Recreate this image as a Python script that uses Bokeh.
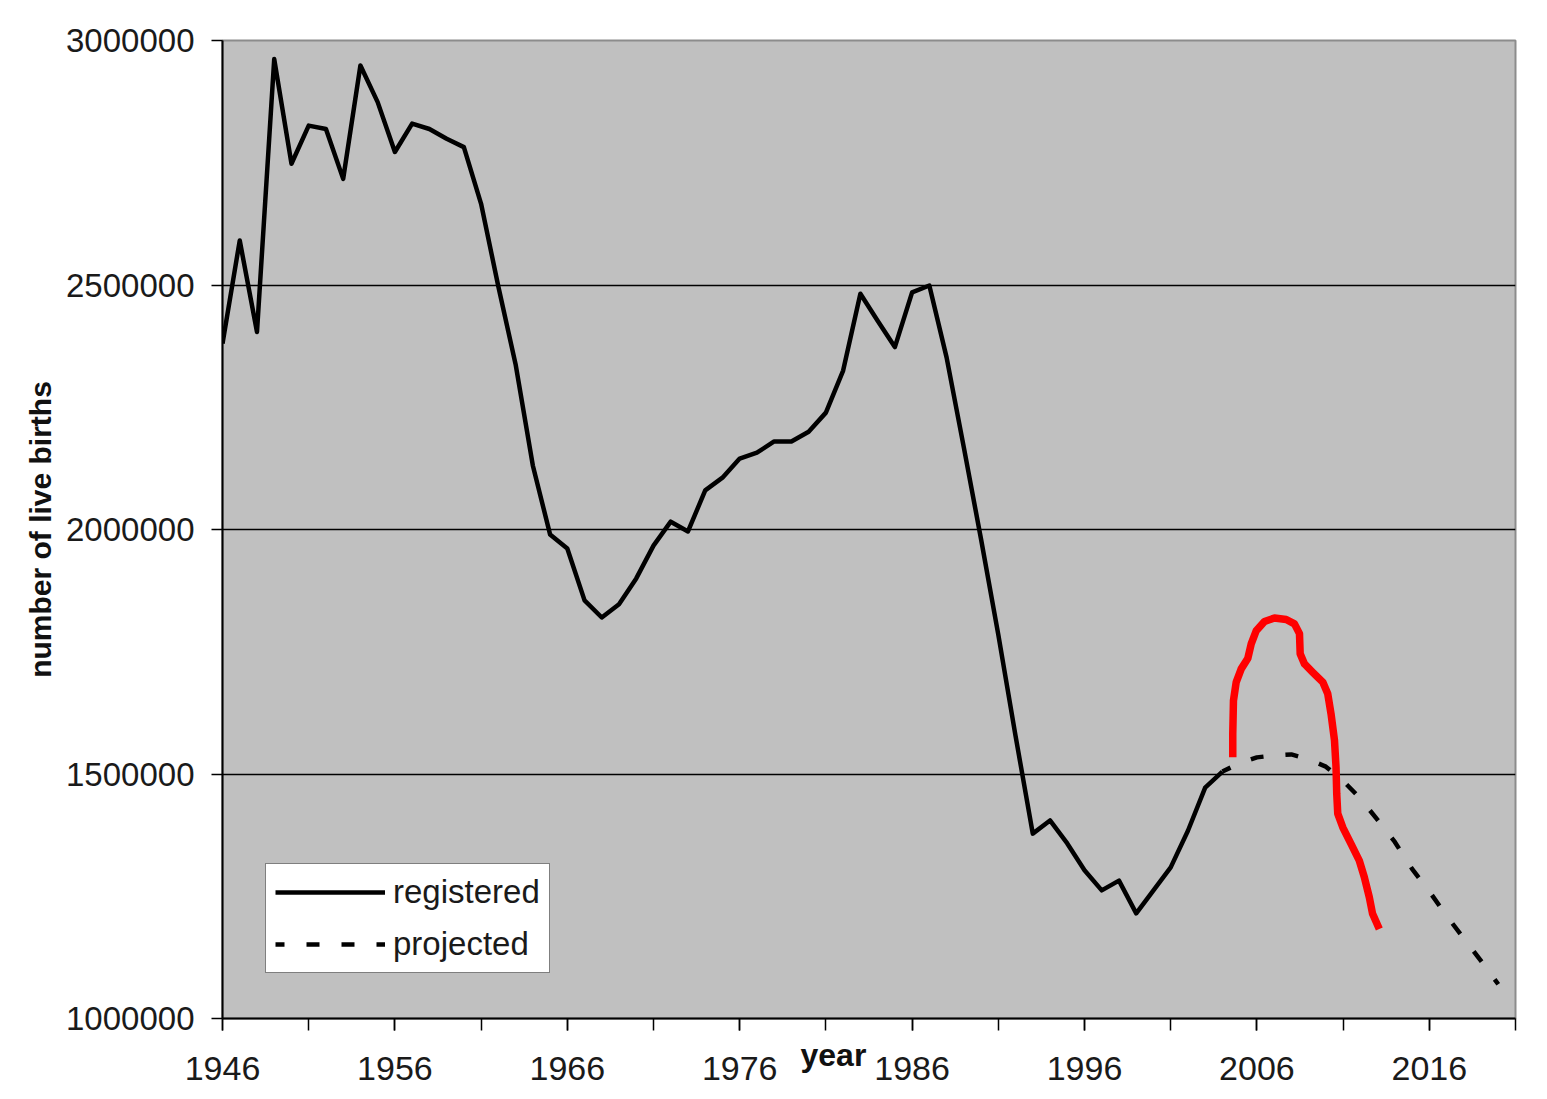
from bokeh.plotting import figure
from bokeh.models import (Range1d, FixedTicker, NumeralTickFormatter, Legend,
                          LegendItem)
from bokeh.embed import file_html
from bokeh.resources import INLINE

# ---------------- data ----------------
registered_years = list(range(1946, 2005))
registered_births = [
    2380000, 2591000, 2404000, 2962000, 2748000, 2826000, 2819000, 2717000,
    2949000, 2874000, 2772000, 2830000, 2819000, 2799000, 2782000, 2666000,
    2497000, 2338000, 2131000, 1990000, 1961000, 1855000, 1820000, 1847000,
    1900000, 1967000, 2016000, 1996000, 2080000, 2106000, 2145000, 2157000,
    2180000, 2180000, 2200000, 2239000, 2325000, 2482000, 2427000, 2373000,
    2485000, 2499000, 2352000, 2168000, 1980000, 1785000, 1578000, 1378000,
    1405000, 1358000, 1303000, 1262000, 1282000, 1215000, 1262000, 1309000,
    1384000, 1472000, 1505000,
]

projected_years = list(range(2004, 2021))
projected_births = [
    1505000, 1522000, 1534000, 1538000, 1540000, 1530000, 1515000, 1486000,
    1450000, 1406000, 1361000, 1306000, 1260000, 1210000, 1164000, 1118000,
    1070000,
]

# hand-drawn red annotation (in year / births units)
annotation_years = [
    2004.60, 2004.60, 2004.64, 2004.80, 2005.09, 2005.47, 2005.67, 2005.96,
    2006.44, 2007.02, 2007.70, 2008.18, 2008.47, 2008.51, 2008.76, 2009.24,
    2009.82, 2010.11, 2010.30, 2010.50, 2010.59, 2010.63, 2010.69, 2010.98,
    2011.46, 2011.94, 2012.23, 2012.52, 2012.71, 2013.10,
]
annotation_births = [
    1534000, 1582000, 1650000, 1688000, 1715000, 1736000, 1766000, 1793000,
    1812000, 1819000, 1816000, 1807000, 1787000, 1746000, 1725000, 1708000,
    1688000, 1664000, 1623000, 1569000, 1514000, 1460000, 1419000, 1391000,
    1357000, 1323000, 1289000, 1248000, 1214000, 1183000,
]

y_ticks = [1000000, 1500000, 2000000, 2500000, 3000000]
y_grid_values = [1500000, 2000000, 2500000]
x_label_ticks = [1946, 1956, 1966, 1976, 1986, 1996, 2006, 2016]
x_minor_ticks = list(range(1946, 2022, 5))

legend_labels = ["registered", "projected"]
x_title = "year"
y_title = "number of live births"

# ---------------- figure ----------------
p = figure(width=1547, height=1099, output_backend="svg", toolbar_location=None,
           x_range=Range1d(1946, 2021), y_range=Range1d(1000000, 3000000),
           min_border_left=222, min_border_right=32, min_border_top=40,
           min_border_bottom=81)

p.background_fill_color = "#c0c0c0"
p.border_fill_color = "white"
p.outline_line_color = "#8c8c8c"
p.outline_line_width = 2

# axes
xa = p.xaxis[0]
xa.ticker = FixedTicker(ticks=x_label_ticks, minor_ticks=x_minor_ticks)
xa.axis_line_color = "black"
xa.axis_line_width = 2
xa.major_tick_out = 12
xa.major_tick_in = 0
xa.minor_tick_out = 12
xa.minor_tick_in = 0
xa.major_tick_line_width = 1.5
xa.minor_tick_line_width = 1.5
xa.major_tick_line_color = "black"
xa.minor_tick_line_color = "black"
xa.major_label_text_font = "Liberation Sans"
xa.major_label_text_font_size = "34px"
xa.major_label_text_color = "#1a1a1a"
xa.major_label_standoff = 26
# axis title drawn in the tick-label row, a little left of centre
xa.axis_label = x_title + "\u00a0" * 8
xa.axis_label_text_font = "Liberation Sans"
xa.axis_label_text_font_style = "bold"
xa.axis_label_text_font_size = "32px"
xa.axis_label_text_color = "#111111"
xa.axis_label_standoff = -46

ya = p.yaxis[0]
ya.ticker = FixedTicker(ticks=y_ticks, minor_ticks=[])
ya.formatter = NumeralTickFormatter(format="0")
ya.axis_line_color = "black"
ya.axis_line_width = 2
ya.major_tick_out = 11
ya.major_tick_in = 0
ya.major_tick_line_width = 1.5
ya.major_tick_line_color = "black"
ya.major_label_text_font = "Liberation Sans"
ya.major_label_text_font_size = "33px"
ya.major_label_text_color = "#1a1a1a"
ya.major_label_standoff = 17
ya.axis_label = y_title
ya.axis_label_text_font = "Liberation Sans"
ya.axis_label_text_font_style = "bold"
ya.axis_label_text_font_size = "30px"
ya.axis_label_text_color = "#111111"
ya.axis_label_standoff = 6

# grid
p.xgrid.visible = False
p.ygrid[0].ticker = FixedTicker(ticks=y_grid_values, minor_ticks=[])
p.ygrid.grid_line_color = "black"
p.ygrid.grid_line_width = 1.5

# ---------------- series ----------------
r_reg = p.line(registered_years, registered_births, line_color="black",
               line_width=4.5, line_join="round")
r_proj = p.line(projected_years, projected_births, line_color="black",
                line_width=4.5, line_dash="13 22", line_dash_offset=4,
                line_cap="butt")
p.line(annotation_years, annotation_births, line_color="#ff0000",
       line_width=7.5, line_join="round", line_cap="butt")

# ---------------- legend ----------------
legend = Legend(items=[LegendItem(label=legend_labels[0], renderers=[r_reg]),
                       LegendItem(label=legend_labels[1], renderers=[r_proj])],
                location=(43, 45), margin=0, padding=9, spacing=14,
                glyph_width=110, glyph_height=38, label_height=38,
                label_standoff=8,
                label_text_font="Liberation Sans", label_text_font_size="33px",
                label_text_color="#1a1a1a",
                border_line_color="black", border_line_width=1.5,
                background_fill_color="white", background_fill_alpha=1.0)
p.add_layout(legend)

open("out.html", "w").write(file_html(p, INLINE))
